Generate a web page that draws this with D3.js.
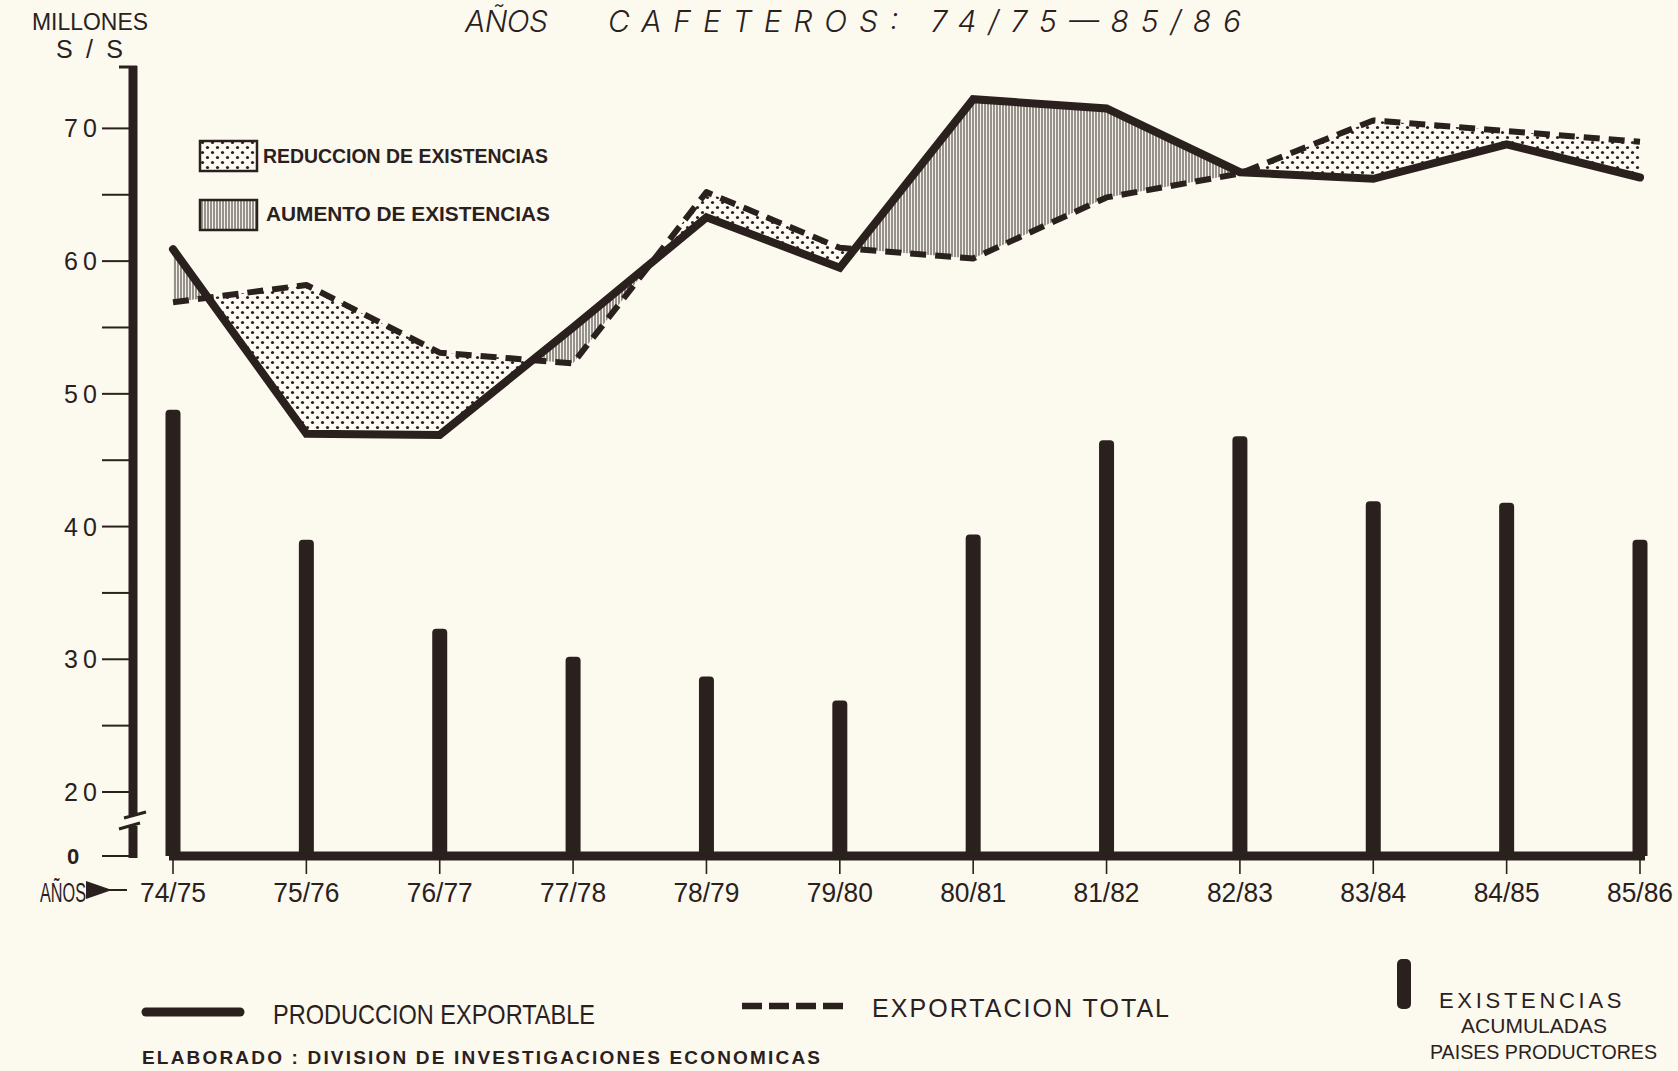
<!DOCTYPE html>
<html>
<head>
<meta charset="utf-8">
<script src="https://cdn.jsdelivr.net/npm/d3@7"></script>
<style>
html,body{margin:0;padding:0;background:#fcf9ef;}
svg{display:block;}
</style>
</head>
<body>
<svg id="chart" width="1678" height="1071"></svg>
<script>
// ---- DATA ----
const categories = ["74/75","75/76","76/77","77/78","78/79","79/80","80/81","81/82","82/83","83/84","84/85","85/86"];
const produccionExportable = [60.9,47.0,46.9,55.0,63.3,59.5,72.2,71.5,66.7,66.2,68.8,66.3];
const exportacionTotal    = [56.9,58.2,53.1,52.3,65.2,61.0,60.2,64.8,66.6,70.6,69.8,69.0];
const existencias         = [48.8,39.0,32.3,30.2,28.7,26.9,39.4,46.5,46.8,41.9,41.8,39.0];
const majorTicks = [20,30,40,50,60,70];
const minorTicks = [25,35,45,55,65];
const zeroTick = [0];

const INK = "#2a211e";
const svg = d3.select("#chart");
svg.append("rect").attr("width",1678).attr("height",1071).attr("fill","#fcf9ef");

const x = d3.scalePoint().domain(categories).range([173, 1640]);
// broken axis: 0 -> 20 compressed
const y = d3.scaleLinear().domain([0,20,70]).range([856,792,128.4]);

const data = categories.map((c,i)=>({c, p:produccionExportable[i], e:exportacionTotal[i], s:existencias[i]}));

// ---- patterns ----
const defs = svg.append("defs");
const dots = defs.append("pattern").attr("id","dots").attr("patternUnits","userSpaceOnUse")
  .attr("width",10).attr("height",10);
dots.append("rect").attr("width",10).attr("height",10).attr("fill","#fdfbf3");
dots.append("circle").attr("cx",2.5).attr("cy",2.5).attr("r",1.6).attr("fill",INK);
dots.append("circle").attr("cx",7.5).attr("cy",7.5).attr("r",1.6).attr("fill",INK);

const hatch = defs.append("pattern").attr("id","hatch").attr("patternUnits","userSpaceOnUse")
  .attr("width",3).attr("height",6);
hatch.append("rect").attr("width",3).attr("height",6).attr("fill","#f4f1e8");
hatch.append("line").attr("x1",1).attr("x2",1).attr("y1",0).attr("y2",6)
  .attr("stroke","#4a4240").attr("stroke-width",1.1);

// clip regions relative to production line
defs.append("clipPath").attr("id","aboveProd").append("path")
  .attr("d", d3.area().x(d=>x(d.c)).y0(0).y1(d=>y(d.p))(data));
defs.append("clipPath").attr("id","belowProd").append("path")
  .attr("d", d3.area().x(d=>x(d.c)).y0(d=>y(d.p)).y1(1071)(data));

const between = d3.area().x(d=>x(d.c)).y0(d=>y(d.p)).y1(d=>y(d.e));

// reduction (exports above production) -> dots
svg.append("path").attr("d", between(data)).attr("fill","url(#dots)").attr("clip-path","url(#aboveProd)");
// increase (production above exports) -> hatch
svg.append("path").attr("d", between(data)).attr("fill","url(#hatch)").attr("clip-path","url(#belowProd)");

// ---- bars ----
const barW = 15;
svg.append("g").selectAll("path").data(data).join("path")
  .attr("d", d => {
    const x0 = x(d.c) - barW/2, x1 = x(d.c) + barW/2, yt = y(d.s), yb = y(0), r = 4;
    return `M${x0},${yb} L${x0},${yt+r} Q${x0},${yt} ${x0+r},${yt} L${x1-r},${yt} Q${x1},${yt} ${x1},${yt+r} L${x1},${yb} Z`;
  })
  .attr("fill", INK);

// ---- baseline (x axis) ----
svg.append("line").attr("x1",x(categories[0])-4).attr("x2",x(categories[categories.length-1])+5)
  .attr("y1",y(0)).attr("y2",y(0)).attr("stroke",INK).attr("stroke-width",9);
svg.append("g").selectAll("line").data(categories).join("line")
  .attr("x1",d=>x(d)).attr("x2",d=>x(d)).attr("y1",y(0)+4).attr("y2",y(0)+18)
  .attr("stroke",INK).attr("stroke-width",1.6);

// x labels
svg.append("g").selectAll("text").data(categories).join("text")
  .attr("x",d=>x(d)).attr("y",902).attr("text-anchor","middle")
  .attr("font-family","'Liberation Sans Narrow','Liberation Sans',sans-serif")
  .attr("font-size",27).attr("fill",INK)
  .attr("textLength",66).attr("lengthAdjust","spacingAndGlyphs")
  .text(d=>d);

// AÑOS arrow label
svg.append("text").attr("x",40).attr("y",902)
  .attr("font-family","'Liberation Sans Narrow','Liberation Sans',sans-serif")
  .attr("font-size",27).attr("fill",INK).attr("textLength",46).attr("lengthAdjust","spacingAndGlyphs")
  .text("AÑOS");
svg.append("path").attr("d","M86,881 L112,890 L86,899 Z").attr("fill",INK);
svg.append("line").attr("x1",108).attr("x2",127).attr("y1",890).attr("y2",890).attr("stroke",INK).attr("stroke-width",2);

// ---- lines ----
const line = (key) => d3.line().x(d=>x(d.c)).y(d=>y(d[key]));
svg.append("path").attr("d", line("e")(data)).attr("fill","none").attr("stroke",INK)
  .attr("stroke-width",6).attr("stroke-dasharray","16,9").attr("stroke-linejoin","round");
svg.append("path").attr("d", line("p")(data)).attr("fill","none").attr("stroke",INK)
  .attr("stroke-width",8).attr("stroke-linejoin","miter").attr("stroke-linecap","round");

// ---- y axis ----
const axisX = 133;
svg.append("line").attr("x1",axisX).attr("x2",axisX).attr("y1",66).attr("y2",815)
  .attr("stroke",INK).attr("stroke-width",9);
svg.append("line").attr("x1",axisX).attr("x2",axisX).attr("y1",826).attr("y2",y(0)+2)
  .attr("stroke",INK).attr("stroke-width",9);
svg.append("line").attr("x1",119).attr("x2",axisX+4).attr("y1",67).attr("y2",67)
  .attr("stroke",INK).attr("stroke-width",3);
// break marks
svg.append("path").attr("d","M124,818 L146,812").attr("stroke",INK).attr("stroke-width",3).attr("fill","none");
svg.append("path").attr("d","M119,829 L140,823").attr("stroke",INK).attr("stroke-width",3).attr("fill","none");

svg.append("g").selectAll("line").data(majorTicks.concat(minorTicks, zeroTick)).join("line")
  .attr("x1",102).attr("x2",axisX).attr("y1",d=>y(d)).attr("y2",d=>y(d))
  .attr("stroke",INK).attr("stroke-width",2);

svg.append("g").selectAll("text").data(majorTicks).join("text")
  .attr("x",97).attr("y",d=>y(d)+9).attr("text-anchor","end")
  .attr("font-family","'Liberation Sans',sans-serif").attr("font-size",25).attr("fill",INK)
  .attr("textLength",33).attr("lengthAdjust","spacing")
  .text(d=>d);
svg.append("g").selectAll("text").data(zeroTick).join("text")
  .attr("x",73).attr("y",d=>y(d)+8).attr("text-anchor","middle")
  .attr("font-family","'Liberation Sans',sans-serif").attr("font-weight","bold").attr("font-size",22).attr("fill",INK)
  .text(d=>d);

// unit label
svg.append("text").attr("x",32).attr("y",30)
  .attr("font-family","'Liberation Sans Narrow','Liberation Sans',sans-serif")
  .attr("font-size",23).attr("fill",INK)
  .attr("textLength",116).attr("lengthAdjust","spacingAndGlyphs").text("MILLONES");
svg.append("text").attr("x",56).attr("y",58)
  .attr("font-family","'Liberation Sans',sans-serif").attr("font-size",25).attr("fill",INK)
  .attr("textLength",67).attr("lengthAdjust","spacing").text("S / S");

// title
const titleFont = "'Inter','Lato','Open Sans',sans-serif";
svg.append("text").attr("x",465).attr("y",32)
  .attr("font-family",titleFont).attr("font-weight",300).attr("font-style","italic")
  .attr("font-size",30).attr("fill",INK).attr("textLength",83).attr("lengthAdjust","spacing")
  .text("AÑOS");
svg.append("text").attr("x",608).attr("y",32)
  .attr("font-family",titleFont).attr("font-weight",300).attr("font-style","italic")
  .attr("font-size",30).attr("fill",INK).attr("textLength",633).attr("lengthAdjust","spacing")
  .text("CAFETEROS: 74/75—85/86");

// ---- top-left legend ----
svg.append("rect").attr("x",200).attr("y",141).attr("width",57).attr("height",30)
  .attr("fill","url(#dots)").attr("stroke",INK).attr("stroke-width",2.5);
svg.append("rect").attr("x",200).attr("y",200).attr("width",57).attr("height",30)
  .attr("fill","url(#hatch)").attr("stroke",INK).attr("stroke-width",2.5);
svg.append("text").attr("x",263).attr("y",163)
  .attr("font-family","'Liberation Sans Narrow','Liberation Sans',sans-serif").attr("font-weight","bold")
  .attr("font-size",21).attr("fill",INK).attr("textLength",285).attr("lengthAdjust","spacingAndGlyphs")
  .text("REDUCCION DE EXISTENCIAS");
svg.append("text").attr("x",266).attr("y",221)
  .attr("font-family","'Liberation Sans Narrow','Liberation Sans',sans-serif").attr("font-weight","bold")
  .attr("font-size",21).attr("fill",INK).attr("textLength",284).attr("lengthAdjust","spacingAndGlyphs")
  .text("AUMENTO  DE EXISTENCIAS");

// ---- bottom legend ----
svg.append("line").attr("x1",146).attr("x2",240).attr("y1",1012).attr("y2",1012)
  .attr("stroke",INK).attr("stroke-width",9).attr("stroke-linecap","round");
svg.append("text").attr("x",273).attr("y",1024)
  .attr("font-family","'Liberation Sans Narrow','Liberation Sans',sans-serif").attr("font-size",28).attr("fill",INK)
  .attr("textLength",322).attr("lengthAdjust","spacingAndGlyphs").text("PRODUCCION EXPORTABLE");

svg.append("line").attr("x1",742).attr("x2",845).attr("y1",1006).attr("y2",1006)
  .attr("stroke",INK).attr("stroke-width",6.5).attr("stroke-dasharray","20,7");
svg.append("text").attr("x",872).attr("y",1017)
  .attr("font-family","'Liberation Sans',sans-serif").attr("font-size",25).attr("fill",INK)
  .attr("textLength",297).attr("lengthAdjust","spacing").text("EXPORTACION TOTAL");

svg.append("rect").attr("x",1397).attr("y",959).attr("width",14).attr("height",50).attr("rx",5)
  .attr("fill",INK);
svg.append("text").attr("x",1439).attr("y",1008)
  .attr("font-family","'Liberation Sans',sans-serif").attr("font-size",22).attr("fill",INK)
  .attr("letter-spacing",3.7).text("EXISTENCIAS");
svg.append("text").attr("x",1461).attr("y",1033)
  .attr("font-family","'Liberation Sans Narrow','Liberation Sans',sans-serif").attr("font-size",20).attr("fill",INK)
  .attr("textLength",146).attr("lengthAdjust","spacingAndGlyphs").text("ACUMULADAS");
svg.append("text").attr("x",1430).attr("y",1059)
  .attr("font-family","'Liberation Sans Narrow','Liberation Sans',sans-serif").attr("font-size",21).attr("fill",INK)
  .attr("textLength",227).attr("lengthAdjust","spacingAndGlyphs").text("PAISES PRODUCTORES");

svg.append("text").attr("x",142).attr("y",1064)
  .attr("font-family","'Liberation Sans',sans-serif").attr("font-weight","bold").attr("font-size",19).attr("fill",INK)
  .attr("textLength",678).attr("lengthAdjust","spacing").text("ELABORADO : DIVISION DE INVESTIGACIONES ECONOMICAS");
</script>
</body>
</html>
